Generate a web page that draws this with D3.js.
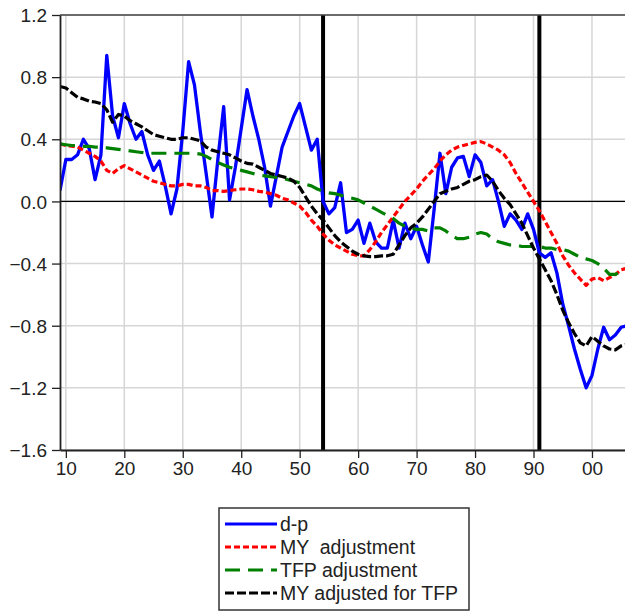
<!DOCTYPE html>
<html>
<head>
<meta charset="utf-8">
<script src="https://cdn.jsdelivr.net/npm/d3@7"></script>
<style>
  body { margin: 0; background: #fff; }
  svg { display: block; }
  text { font-family: "Liberation Sans", Arial, sans-serif; fill: #222; }
</style>
</head>
<body>
<div class="chart"></div>
<script>
// annual observations 1909..2006
var firstYear = 1909;
var dp = [0.07, 0.27, 0.27, 0.30, 0.40, 0.34, 0.14, 0.30, 0.94, 0.55,
  0.41, 0.63, 0.50, 0.40, 0.45, 0.30, 0.20, 0.26, 0.10, -0.08,
  0.08, 0.45, 0.90, 0.75, 0.45, 0.18, -0.10, 0.27, 0.61, 0.01,
  0.22, 0.47, 0.72, 0.55, 0.40, 0.22, -0.03, 0.16, 0.35, 0.45,
  0.55, 0.63, 0.48, 0.33, 0.40, 0.00, -0.08, -0.04, 0.12, -0.20,
  -0.18, -0.12, -0.27, -0.14, -0.26, -0.30, -0.30, -0.12, -0.30, -0.14,
  -0.24, -0.16, -0.28, -0.39, -0.05, 0.31, 0.05, 0.22, 0.28, 0.29,
  0.16, 0.30, 0.25, 0.10, 0.14, 0.00, -0.16, -0.08, -0.12, -0.18,
  -0.08, -0.18, -0.33, -0.36, -0.33, -0.46, -0.66, -0.80, -0.95, -1.08,
  -1.20, -1.12, -0.95, -0.81, -0.89, -0.86, -0.81, -0.80];
var myAdj = [0.37, 0.36, 0.355, 0.35, 0.33, 0.31, 0.29, 0.26, 0.20, 0.18,
  0.21, 0.23, 0.21, 0.19, 0.17, 0.15, 0.13, 0.12, 0.11, 0.10,
  0.10, 0.11, 0.11, 0.10, 0.10, 0.09, 0.07, 0.07, 0.065, 0.07,
  0.075, 0.08, 0.08, 0.075, 0.065, 0.06, 0.05, 0.04, 0.02, 0.01,
  -0.01, -0.03, -0.07, -0.12, -0.16, -0.21, -0.25, -0.28, -0.30, -0.32,
  -0.34, -0.35, -0.35, -0.31, -0.26, -0.20, -0.15, -0.10, -0.05, 0.00,
  0.04, 0.08, 0.13, 0.17, 0.21, 0.26, 0.30, 0.33, 0.35, 0.36,
  0.37, 0.38, 0.385, 0.37, 0.35, 0.33, 0.30, 0.25, 0.18, 0.12,
  0.06, 0.00, -0.06, -0.13, -0.20, -0.27, -0.35, -0.41, -0.46, -0.50,
  -0.54, -0.50, -0.49, -0.51, -0.49, -0.47, -0.44, -0.43];
var tfpAdj = [0.37, 0.365, 0.36, 0.36, 0.355, 0.355, 0.35, 0.35, 0.345, 0.34,
  0.335, 0.33, 0.325, 0.32, 0.315, 0.31, 0.31, 0.31, 0.31, 0.31,
  0.31, 0.31, 0.31, 0.31, 0.305, 0.29, 0.27, 0.25, 0.235, 0.22,
  0.21, 0.20, 0.19, 0.18, 0.17, 0.165, 0.16, 0.155, 0.15, 0.14,
  0.13, 0.12, 0.11, 0.10, 0.08, 0.065, 0.055, 0.05, 0.04, 0.03,
  0.02, 0.01, -0.01, -0.03, -0.05, -0.07, -0.09, -0.11, -0.14, -0.16,
  -0.17, -0.18, -0.18, -0.19, -0.17, -0.17, -0.19, -0.22, -0.24, -0.24,
  -0.23, -0.21, -0.20, -0.21, -0.24, -0.26, -0.27, -0.28, -0.28, -0.29,
  -0.29, -0.29, -0.29, -0.30, -0.30, -0.31, -0.31, -0.32, -0.34, -0.36,
  -0.37, -0.38, -0.40, -0.43, -0.47, -0.47, -0.45, -0.45];
var myTfp = [0.74, 0.73, 0.70, 0.67, 0.66, 0.645, 0.64, 0.63, 0.59, 0.51,
  0.56, 0.55, 0.52, 0.50, 0.48, 0.455, 0.43, 0.42, 0.41, 0.40,
  0.40, 0.41, 0.41, 0.40, 0.39, 0.35, 0.33, 0.32, 0.31, 0.30,
  0.28, 0.26, 0.245, 0.24, 0.22, 0.20, 0.18, 0.17, 0.16, 0.15,
  0.13, 0.09, 0.03, -0.03, -0.08, -0.12, -0.17, -0.22, -0.26, -0.29,
  -0.32, -0.34, -0.35, -0.355, -0.355, -0.35, -0.35, -0.34, -0.28, -0.22,
  -0.17, -0.14, -0.10, -0.05, 0.00, 0.05, 0.065, 0.08, 0.09, 0.11,
  0.13, 0.14, 0.16, 0.17, 0.13, 0.07, 0.02, -0.02, -0.08, -0.14,
  -0.22, -0.30, -0.37, -0.44, -0.51, -0.60, -0.70, -0.78, -0.85, -0.91,
  -0.93, -0.87, -0.90, -0.93, -0.95, -0.955, -0.93, -0.92];

var yTicks = [1.2, 0.8, 0.4, 0.0, -0.4, -0.8, -1.2, -1.6];
var xTicks = [1910, 1920, 1930, 1940, 1950, 1960, 1970, 1980, 1990, 2000];
var breakYears = [1954, 1991];
var seriesNames = ["d-p", "MY  adjustment", "TFP adjustment", "MY adjusted for TFP"];

var width = 625, height = 612;
var plotLeft = 60, plotRight = 625, plotTop = 15, plotBottom = 450;

var series = [
  {name: seriesNames[0], values: dp, color: "#0000ff", dash: null, w: 3.3},
  {name: seriesNames[1], values: myAdj, color: "#ff0000", dash: "6,3", w: 3.2},
  {name: seriesNames[2], values: tfpAdj, color: "#008000", dash: "15,8", w: 3.2},
  {name: seriesNames[3], values: myTfp, color: "#000000", dash: "9,3", w: 3.2}
];

var x = d3.scaleLinear().domain([1909, 2005.65]).range([plotLeft, plotRight]);
var y = d3.scaleLinear().domain([-1.6, 1.2]).range([plotBottom, plotTop]);

var svg = d3.select(".chart").append("svg")
  .attr("width", width)
  .attr("height", height);

svg.append("clipPath").attr("id", "plot")
  .append("rect")
  .attr("x", plotLeft).attr("y", plotTop)
  .attr("width", plotRight - plotLeft).attr("height", plotBottom - plotTop);

// grid
svg.append("g").selectAll("line").data(xTicks).enter().append("line")
  .attr("x1", x).attr("x2", x)
  .attr("y1", plotTop).attr("y2", plotBottom)
  .attr("stroke", "#d6d6d6").attr("stroke-width", 1.5);
svg.append("g").selectAll("line").data(yTicks).enter().append("line")
  .attr("x1", plotLeft).attr("x2", plotRight)
  .attr("y1", y).attr("y2", y)
  .attr("stroke", "#d6d6d6").attr("stroke-width", 1.5);

// zero line
svg.append("line")
  .attr("x1", plotLeft).attr("x2", plotRight)
  .attr("y1", y(0)).attr("y2", y(0))
  .attr("stroke", "#000").attr("stroke-width", 1.2);

// break lines
svg.append("g").selectAll("line").data(breakYears).enter().append("line")
  .attr("x1", x).attr("x2", x)
  .attr("y1", plotTop).attr("y2", plotBottom)
  .attr("stroke", "#000").attr("stroke-width", 4);

// series
var line = d3.line()
  .x(function(d, i) { return x(firstYear + i); })
  .y(function(d) { return y(d); });

var plot = svg.append("g").attr("clip-path", "url(#plot)");
series.forEach(function(s) {
  plot.append("path")
    .attr("d", line(s.values))
    .attr("fill", "none")
    .attr("stroke", s.color)
    .attr("stroke-width", s.w)
    .attr("stroke-dasharray", s.dash)
    .attr("stroke-linejoin", "round");
});

// frame
svg.append("line").attr("x1", plotLeft).attr("x2", plotRight)
  .attr("y1", plotTop).attr("y2", plotTop)
  .attr("stroke", "#444").attr("stroke-width", 1.5);

var yAxis = d3.axisLeft(y).tickValues(yTicks).tickSize(8).tickSizeOuter(0)
  .tickFormat(d3.format(".1f"));
var gy = svg.append("g").attr("transform", "translate(" + plotLeft + ",0)").call(yAxis);

var xAxis = d3.axisBottom(x).tickValues(xTicks).tickSize(8).tickSizeOuter(0)
  .tickFormat(function(d) { return String(d % 100).padStart(2, "0"); });
var gx = svg.append("g").attr("transform", "translate(0," + plotBottom + ")").call(xAxis);

[gx, gy].forEach(function(g) {
  g.select(".domain").attr("stroke", "#222").attr("stroke-width", 1.8);
  g.selectAll(".tick line").attr("stroke", "#222").attr("stroke-width", 1.3);
  g.selectAll(".tick text").attr("font-size", 19).attr("fill", "#222")
    .attr("font-family", "'Liberation Sans', Arial, sans-serif");
});
gy.selectAll(".tick text").attr("x", -13).attr("dy", "0.35em");
gx.selectAll(".tick text").attr("y", 12);

// legend
var legend = svg.append("g").attr("transform", "translate(219,508)");
legend.append("rect")
  .attr("width", 250).attr("height", 102)
  .attr("fill", "#fff").attr("stroke", "#333").attr("stroke-width", 1.5);
var items = legend.selectAll("g.item").data(series).enter().append("g")
  .attr("class", "item")
  .attr("transform", function(d, i) { return "translate(0," + (16 + i * 23) + ")"; });
items.append("line")
  .attr("x1", 6).attr("x2", 58)
  .attr("stroke", function(d) { return d.color; })
  .attr("stroke-width", 3.2)
  .attr("stroke-dasharray", function(d) { return d.dash; });
items.append("text")
  .attr("x", 61).attr("dy", "0.35em")
  .attr("font-size", 19.5)
  .style("white-space", "pre")
  .text(function(d) { return d.name; });
</script>
</body>
</html>
